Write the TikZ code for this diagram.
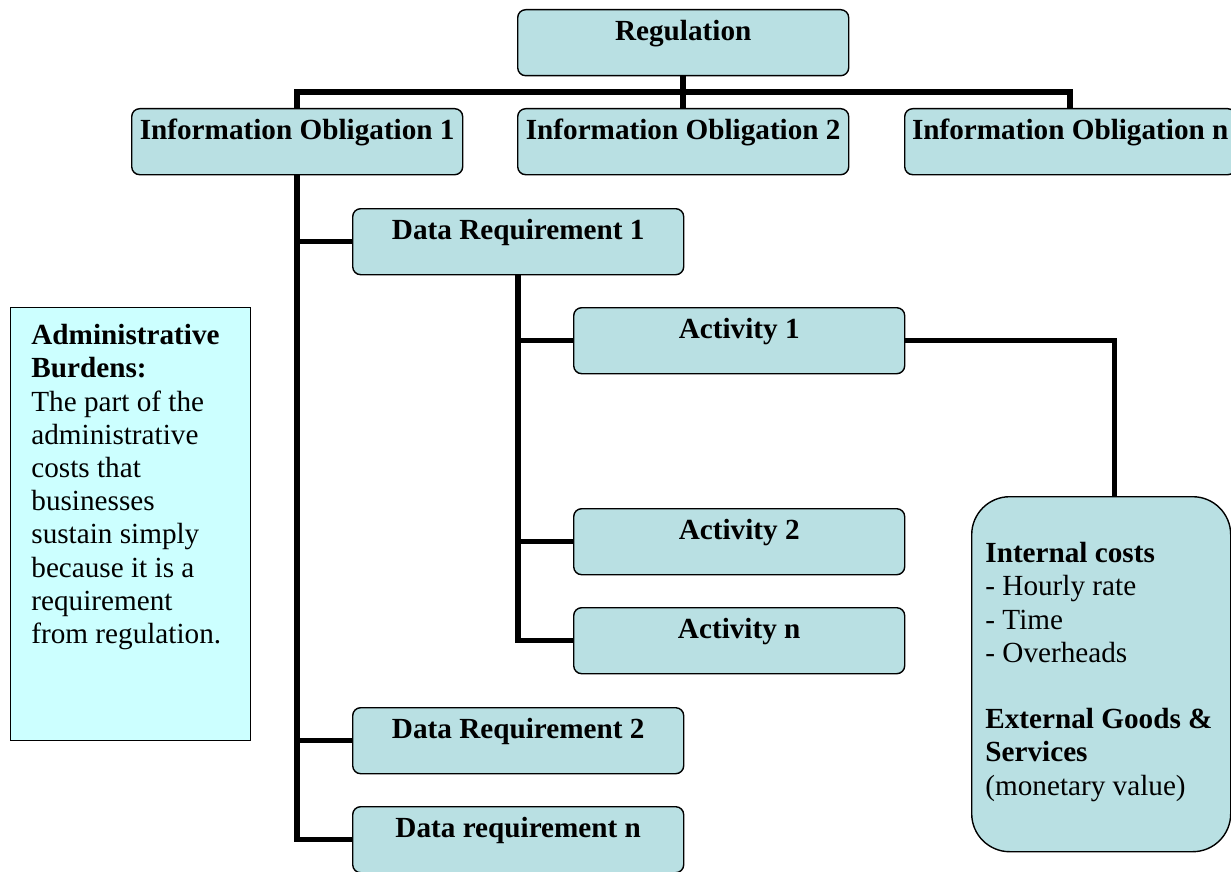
\documentclass[tikz,border=0pt]{standalone}
\usepackage{fontspec}
\setmainfont{Liberation Serif}
\definecolor{boxfill}{RGB}{185,224,227}
\definecolor{notefill}{RGB}{204,255,255}
\begin{document}
\begin{tikzpicture}[x=0.5pt,y=-0.5pt,
  every node/.style={font=\fontsize{14.6pt}{16.6pt}\selectfont},
  box/.style={draw=black, line width=0.7pt, fill=boxfill, rounded corners=4pt,
    anchor=north west, inner xsep=0pt, inner ysep=0pt, minimum width=165.5pt,
    text height=15.5pt, text depth=17.5pt,
    font=\fontsize{14.6pt}{16.6pt}\selectfont\bfseries},
  bigbox/.style={draw=black, line width=0.7pt, fill=boxfill, rounded corners=19pt,
    anchor=north west, inner sep=0pt},
  notebox/.style={draw=black, line width=0.7pt, fill=notefill,
    anchor=north west, inner sep=0pt},
  textblock/.style={anchor=north west, align=left, inner sep=0pt},
  conn/.style={line width=2.75pt}
]
\useasboundingbox (0,0) rectangle (1231,872);
\clip (0,0) rectangle (1231,872);

\node[box] (reg) at (517,9) {Regulation};
\node[box] (io1) at (131,108) {Information Obligation 1};
\node[box] (io2) at (517,108) {Information Obligation 2};
\node[box] (ion) at (904,108) {Information Obligation n};
\node[box] (dr1) at (352,208) {Data Requirement 1};
\node[box] (act1) at (573,307) {Activity 1};
\node[box] (act2) at (573,508) {Activity 2};
\node[box] (actn) at (573,607) {Activity n};
\node[box] (dr2) at (352,707) {Data Requirement 2};
\node[box] (drn) at (352,806) {Data requirement n};

\node[notebox, minimum width=120pt, minimum height=216.5pt] (note) at (10,307) {};
\node[textblock] (notetext) at (31,324) {\rule{0pt}{10pt}\textbf{Administrative}\\\textbf{Burdens:}\\The part of the\\administrative\\costs that\\businesses\\sustain simply\\because it is a\\requirement\\from regulation.};

\node[bigbox, minimum width=129.5pt, minimum height=177.5pt] (rbox) at (971,496) {};
\node[textblock] (rtext) at (985,542) {\rule{0pt}{10pt}\textbf{Internal costs}\\- Hourly rate\\- Time\\- Overheads\\[16.6pt]\textbf{External Goods \&}\\\textbf{Services}\\(monetary value)};

\coordinate (bar) at (683,92);
\draw[conn] (reg.south) -- (io2.north);
\draw[conn] (io1.north) -- (io1.north |- bar) -- (ion.north |- bar) -- (ion.north);

\draw[conn] (io1.south) |- (drn.west);
\draw[conn] (io1.south |- dr1.west) -- (dr1.west);
\draw[conn] (io1.south |- dr2.west) -- (dr2.west);

\draw[conn] (dr1.south) |- (actn.west);
\draw[conn] (dr1.south |- act1.west) -- (act1.west);
\draw[conn] (dr1.south |- act2.west) -- (act2.west);

\draw[conn] (act1.east) -| ([xshift=6.75pt]rbox.north);
\end{tikzpicture}
\end{document}
